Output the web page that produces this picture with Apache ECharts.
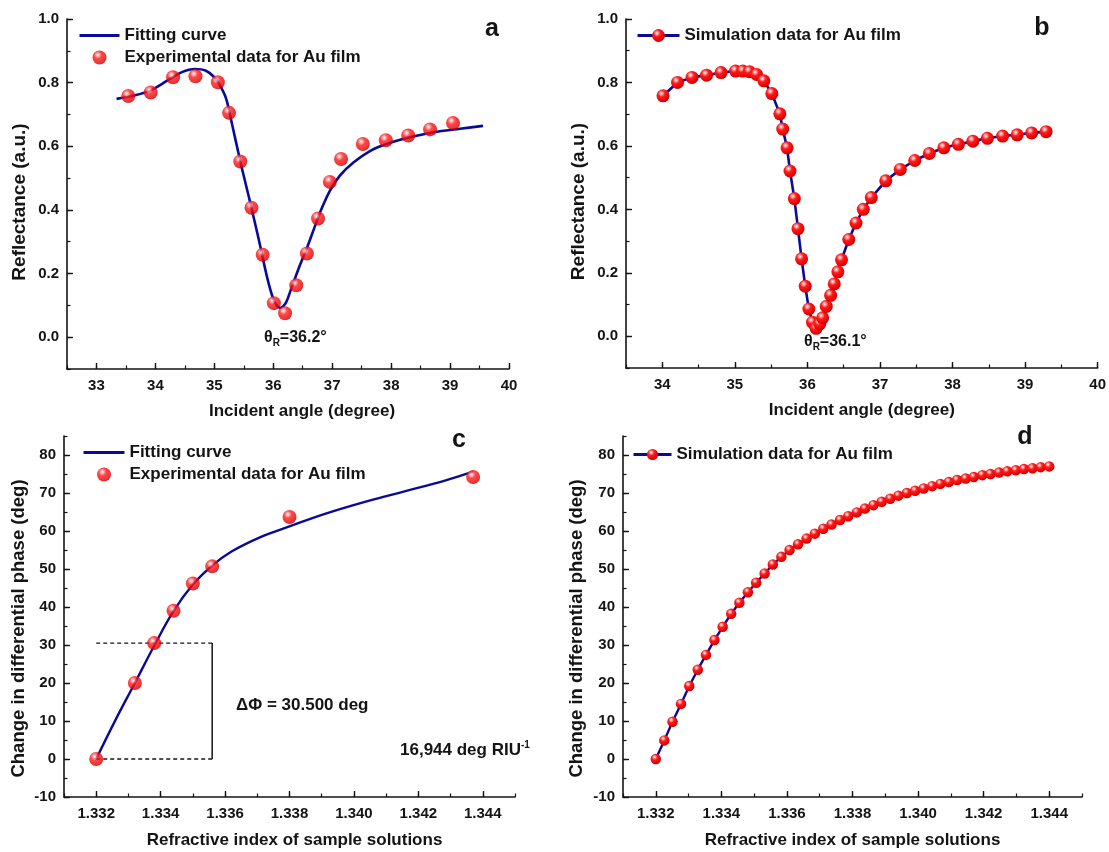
<!DOCTYPE html>
<html>
<head>
<meta charset="utf-8">
<title>SPR reflectance and differential phase</title>
<script src="https://cdn.jsdelivr.net/npm/echarts@6.0.0/dist/echarts.min.js"></script>
<style>
  html, body { margin: 0; padding: 0; background: #fff; }
  #chart { width: 1109px; height: 852px; }
</style>
</head>
<body>
<div id="chart"></div>
<script>
// ---- panel a: experimental reflectance + fitting curve
const expAngle = [33.54, 33.92, 34.30, 34.68, 35.06, 35.25, 35.44, 35.63, 35.82, 36.01, 36.20,
  36.39, 36.57, 36.76, 36.96, 37.15, 37.52, 37.91, 38.29, 38.66, 39.05];
const expRefl = [0.758, 0.769, 0.817, 0.820, 0.801, 0.705, 0.552, 0.407, 0.259, 0.107, 0.075,
  0.163, 0.263, 0.373, 0.488, 0.560, 0.607, 0.619, 0.634, 0.653, 0.673];
const fitAngle = [33.34, 33.6, 33.9, 34.2, 34.45, 34.67, 34.85, 35.0, 35.1, 35.2, 35.3, 35.45,
  35.6, 35.75, 35.9, 36.0, 36.06, 36.11, 36.16, 36.22, 36.3, 36.45, 36.57, 36.7, 36.8, 36.96,
  37.13, 37.36, 37.64, 37.92, 38.32, 38.72, 39.17, 39.56];
const fitRefl = [0.749, 0.758, 0.774, 0.806, 0.833, 0.843, 0.838, 0.817, 0.79, 0.75, 0.67, 0.545,
  0.43, 0.31, 0.185, 0.12, 0.10, 0.092, 0.096, 0.11, 0.15, 0.225, 0.28, 0.345, 0.395, 0.46,
  0.508, 0.549, 0.585, 0.607, 0.628, 0.644, 0.655, 0.664];

// ---- panel b: simulated reflectance
const simAngle = [34.01, 34.21, 34.41, 34.61, 34.81, 35.01, 35.11, 35.20, 35.30, 35.40, 35.51,
  35.62, 35.66, 35.72, 35.76, 35.82, 35.87, 35.92, 35.97, 36.02, 36.07, 36.12, 36.17, 36.21,
  36.26, 36.32, 36.37, 36.42, 36.47, 36.57, 36.67, 36.77, 36.88, 37.08, 37.28, 37.48, 37.68,
  37.88, 38.08, 38.28, 38.48, 38.69, 38.89, 39.09, 39.29];
const simRefl = [0.758, 0.800, 0.816, 0.823, 0.831, 0.836, 0.836, 0.834, 0.825, 0.805, 0.765,
  0.701, 0.653, 0.594, 0.521, 0.434, 0.339, 0.244, 0.158, 0.086, 0.044, 0.025, 0.039, 0.058,
  0.094, 0.129, 0.165, 0.203, 0.241, 0.305, 0.357, 0.400, 0.437, 0.490, 0.526, 0.554, 0.576,
  0.594, 0.605, 0.615, 0.624, 0.631, 0.635, 0.641, 0.645];

// ---- panel c: experimental phase change + fitting curve
const expIndex = [1.332, 1.3332, 1.3338, 1.3344, 1.3350, 1.3356, 1.3380, 1.3437];
const expPhase = [0, 20, 30.5, 39.0, 46.2, 50.7, 63.7, 74.2];
const fitIndex = [1.332, 1.3326, 1.3332, 1.3338, 1.3344, 1.3350, 1.3356, 1.3362, 1.3371, 1.3380,
  1.3391, 1.3404, 1.3416, 1.3428, 1.3437];
const fitPhase = [0, 10.3, 20, 29.8, 38.9, 45.9, 50.9, 54.6, 58.4, 61.2, 64.5, 67.8, 70.5, 73.2, 75.6];
const boxTop = [[1.332, 30.5], [1.3356, 30.5]];
const boxBottom = [[1.332, 0], [1.3356, 0]];
const boxSide = [[1.3356, 0], [1.3356, 30.5]];

// ---- panel d: simulated phase change
const simIndex = [1.33200, 1.33226, 1.33251, 1.33277, 1.33302, 1.33328, 1.33353, 1.33379,
  1.33404, 1.33430, 1.33455, 1.33481, 1.33506, 1.33532, 1.33557, 1.33583, 1.33608, 1.33634,
  1.33660, 1.33685, 1.33711, 1.33736, 1.33762, 1.33787, 1.33813, 1.33838, 1.33864, 1.33889,
  1.33915, 1.33940, 1.33966, 1.33991, 1.34017, 1.34043, 1.34068, 1.34094, 1.34119, 1.34145,
  1.34170, 1.34196, 1.34221, 1.34247, 1.34272, 1.34298, 1.34323, 1.34349, 1.34374, 1.34400];
const simPhase = [0, 4.9, 9.8, 14.5, 19.2, 23.5, 27.4, 31.3, 34.8, 38.2, 41.1, 43.9, 46.4, 48.8,
  51.2, 53.2, 55.0, 56.5, 58.0, 59.3, 60.6, 61.7, 62.9, 63.9, 64.9, 65.9, 66.8, 67.7, 68.5, 69.3,
  70.0, 70.6, 71.2, 71.8, 72.4, 72.9, 73.4, 73.8, 74.2, 74.7, 75.0, 75.4, 75.7, 76.0, 76.3, 76.5,
  76.8, 77.0];

// tick labels
const angleTicksA = [33, 34, 35, 36, 37, 38, 39, 40];
const angleTicksB = [34, 35, 36, 37, 38, 39, 40];
const reflTicks = [0, 0.2, 0.4, 0.6, 0.8, 1.0];
const indexTicks = [1.332, 1.334, 1.336, 1.338, 1.340, 1.342, 1.344];
const phaseTicks = [-10, 0, 10, 20, 30, 40, 50, 60, 70, 80];

const FONT = "'Liberation Sans', Arial, sans-serif";
const INK = '#141414';
const NAVY = '#0a0a9a';
const BALL = {
  type: 'radial', x: 0.38, y: 0.32, r: 0.7,
  colorStops: [
    { offset: 0, color: '#ffffff' },
    { offset: 0.16, color: '#ffa0a0' },
    { offset: 0.38, color: '#ff1c1c' },
    { offset: 0.85, color: '#e60000' },
    { offset: 1, color: '#b00000' }
  ]
};

function zip(xs, ys) {
  return xs.map((x, i) => [x, ys[i]]);
}

// main axis (line, labels, long ticks) + minor axis (short ticks only)
function axisPair(dim, grid, min, max, labels, minorStep, fmt, name, nameGap, nameSize, namePad) {
  const pos = dim === 'x' ? 'bottom' : 'left';
  const main = {
    type: 'value', gridIndex: grid, min: min, max: max, position: pos,
    axisLine: { show: true, onZero: false, lineStyle: { color: INK, width: 1.6 } },
    axisTick: { show: true, inside: true, length: 6, customValues: labels, lineStyle: { color: INK, width: 1.4 } },
    axisLabel: {
      customValues: labels, formatter: fmt, margin: dim === 'x' ? 9 : 8,
      color: INK, fontFamily: FONT, fontWeight: 'bold', fontSize: 15
    },
    splitLine: { show: false },
    name: name, nameLocation: 'middle', nameGap: nameGap,
    nameTextStyle: { color: INK, fontFamily: FONT, fontWeight: 'bold', fontSize: nameSize, padding: namePad || 0 }
  };
  const minor = {
    type: 'value', gridIndex: grid, min: min, max: max, interval: minorStep, position: pos,
    axisLine: { show: false, onZero: false },
    axisTick: { show: true, inside: true, length: 3.5, lineStyle: { color: INK, width: 1.2 } },
    axisLabel: { show: false },
    splitLine: { show: false }
  };
  return [main, minor];
}

const ax = {
  a: axisPair('x', 0, 32.5, 40, angleTicksA, 0.5, v => String(v), 'Incident angle (degree)', 34, 17, [0, 0, 0, 28]),
  b: axisPair('x', 1, 33.5, 40, angleTicksB, 0.5, v => String(v), 'Incident angle (degree)', 34, 17),
  c: axisPair('x', 2, 1.331, 1.345, indexTicks, 0.001, v => v.toFixed(3), 'Refractive index of sample solutions', 35, 17, [0, 0, 0, 10]),
  d: axisPair('x', 3, 1.331, 1.345, indexTicks, 0.001, v => v.toFixed(3), 'Refractive index of sample solutions', 35, 17)
};
const ay = {
  a: axisPair('y', 0, -0.1, 1.0, reflTicks, 0.1, v => v.toFixed(1), 'Reflectance (a.u.)', 38, 19, [0, 16, 0, 0]),
  b: axisPair('y', 1, -0.1, 1.0, reflTicks, 0.1, v => v.toFixed(1), 'Reflectance (a.u.)', 38, 19, [0, 16, 0, 0]),
  c: axisPair('y', 2, -10, 85, phaseTicks, 5, v => String(v), 'Change in differential phase (deg)', 36, 18.5, [0, 24, 0, 0]),
  d: axisPair('y', 3, -10, 85, phaseTicks, 5, v => String(v), 'Change in differential phase (deg)', 37, 18.5, [0, 24, 0, 0])
};

const legendText = { color: INK, fontFamily: FONT, fontWeight: 'bold', fontSize: 17 };
const lineOnly = { name: 'Fitting curve', itemStyle: { opacity: 0 }, lineStyle: { width: 3 } };

const option = {
  animation: false,
  backgroundColor: '#ffffff',
  grid: [
    { left: 67, top: 19, width: 442, height: 350 },
    { left: 626, top: 19, width: 473, height: 349 },
    { left: 64, top: 436, width: 451, height: 361 },
    { left: 623, top: 436, width: 459, height: 361 }
  ],
  xAxis: [ax.a[0], ax.b[0], ax.c[0], ax.d[0], ax.a[1], ax.b[1], ax.c[1], ax.d[1]],
  yAxis: [ay.a[0], ay.b[0], ay.c[0], ay.d[0], ay.a[1], ay.b[1], ay.c[1], ay.d[1]],
  legend: [
    { left: 78, top: 27, padding: 0, orient: 'vertical', itemWidth: 40, itemHeight: 14, itemGap: 5, selectedMode: false,
      data: [lineOnly, 'Experimental data for Au film'], textStyle: legendText },
    { left: 636, top: 27, padding: 0, orient: 'vertical', itemWidth: 42, itemHeight: 16, selectedMode: false,
      data: [{ name: 'Simulation data for Au film', lineStyle: { width: 3 } }], textStyle: legendText },
    { left: 82, top: 444, padding: 0, orient: 'vertical', itemWidth: 41, itemHeight: 14, itemGap: 5, selectedMode: false,
      data: [lineOnly, 'Experimental data for Au film'], textStyle: legendText },
    { left: 632, top: 446, padding: 0, orient: 'vertical', itemWidth: 38, itemHeight: 14, selectedMode: false,
      data: [{ name: 'Simulation data for Au film', lineStyle: { width: 3 } }], textStyle: legendText }
  ],
  series: [
    // a
    { type: 'line', name: 'Fitting curve', xAxisIndex: 0, yAxisIndex: 0, data: zip(fitAngle, fitRefl),
      smooth: 0.35, symbol: 'none', lineStyle: { color: NAVY, width: 2.6 }, itemStyle: { color: NAVY }, z: 2 },
    { type: 'scatter', name: 'Experimental data for Au film', xAxisIndex: 0, yAxisIndex: 0,
      data: zip(expAngle, expRefl), symbolSize: 14, itemStyle: { color: BALL }, z: 3 },
    // b
    { type: 'line', name: 'Simulation data for Au film', xAxisIndex: 1, yAxisIndex: 1, data: zip(simAngle, simRefl),
      symbol: 'circle', symbolSize: 13, showAllSymbol: true, lineStyle: { color: NAVY, width: 2.6 },
      itemStyle: { color: BALL }, z: 3 },
    // c
    { type: 'line', name: 'Fitting curve', xAxisIndex: 2, yAxisIndex: 2, data: zip(fitIndex, fitPhase),
      smooth: 0.4, symbol: 'none', lineStyle: { color: NAVY, width: 2.4 }, itemStyle: { color: NAVY }, z: 2 },
    { type: 'line', name: 'box-top', xAxisIndex: 2, yAxisIndex: 2, data: boxTop, symbol: 'none',
      lineStyle: { color: INK, width: 1.4, type: [4, 3] }, z: 1 },
    { type: 'line', name: 'box-bottom', xAxisIndex: 2, yAxisIndex: 2, data: boxBottom, symbol: 'none',
      lineStyle: { color: INK, width: 1.4, type: [4, 3] }, z: 1 },
    { type: 'line', name: 'box-side', xAxisIndex: 2, yAxisIndex: 2, data: boxSide, symbol: 'none',
      lineStyle: { color: INK, width: 1.5 }, z: 1 },
    { type: 'scatter', name: 'Experimental data for Au film', xAxisIndex: 2, yAxisIndex: 2,
      data: zip(expIndex, expPhase), symbolSize: 14, itemStyle: { color: BALL }, z: 3 },
    // d
    { type: 'line', name: 'Simulation data for Au film', xAxisIndex: 3, yAxisIndex: 3, data: zip(simIndex, simPhase),
      symbol: 'circle', symbolSize: 10.5, showAllSymbol: true, lineStyle: { color: NAVY, width: 2.4 },
      itemStyle: { color: BALL }, z: 3 }
  ],
  graphic: [
    { type: 'text', x: 492, y: 29, style: { text: 'a', font: 'bold 25px ' + FONT, fill: INK, align: 'center', verticalAlign: 'middle' } },
    { type: 'text', x: 1042, y: 28, style: { text: 'b', font: 'bold 25px ' + FONT, fill: INK, align: 'center', verticalAlign: 'middle' } },
    { type: 'text', x: 459, y: 440, style: { text: 'c', font: 'bold 25px ' + FONT, fill: INK, align: 'center', verticalAlign: 'middle' } },
    { type: 'text', x: 1025, y: 437, style: { text: 'd', font: 'bold 25px ' + FONT, fill: INK, align: 'center', verticalAlign: 'middle' } },
    { type: 'text', x: 264, y: 338, style: {
        text: '{t|θ}{s|R}{t|=36.2°}', fill: INK, align: 'left', verticalAlign: 'middle',
        rich: { t: { fontFamily: FONT, fontWeight: 'bold', fontSize: 16, lineHeight: 20, fill: INK },
                s: { fontFamily: FONT, fontWeight: 'bold', fontSize: 10, lineHeight: 10, verticalAlign: 'bottom', fill: INK } } } },
    { type: 'text', x: 804, y: 342, style: {
        text: '{t|θ}{s|R}{t|=36.1°}', fill: INK, align: 'left', verticalAlign: 'middle',
        rich: { t: { fontFamily: FONT, fontWeight: 'bold', fontSize: 16, lineHeight: 20, fill: INK },
                s: { fontFamily: FONT, fontWeight: 'bold', fontSize: 10, lineHeight: 10, verticalAlign: 'bottom', fill: INK } } } },
    { type: 'text', x: 236, y: 705, style: { text: 'ΔΦ = 30.500 deg', font: 'bold 17px ' + FONT, fill: INK, align: 'left', verticalAlign: 'middle' } },
    { type: 'text', x: 400, y: 750, style: {
        text: '{t|16,944 deg RIU}{p|-1}', fill: INK, align: 'left', verticalAlign: 'middle',
        rich: { t: { fontFamily: FONT, fontWeight: 'bold', fontSize: 17, lineHeight: 20, fill: INK },
                p: { fontFamily: FONT, fontWeight: 'bold', fontSize: 10, lineHeight: 10, verticalAlign: 'top', fill: INK } } } }
  ]
};

const chart = echarts.init(document.getElementById('chart'), null, { renderer: 'canvas' });
chart.setOption(option);
</script>
</body>
</html>
